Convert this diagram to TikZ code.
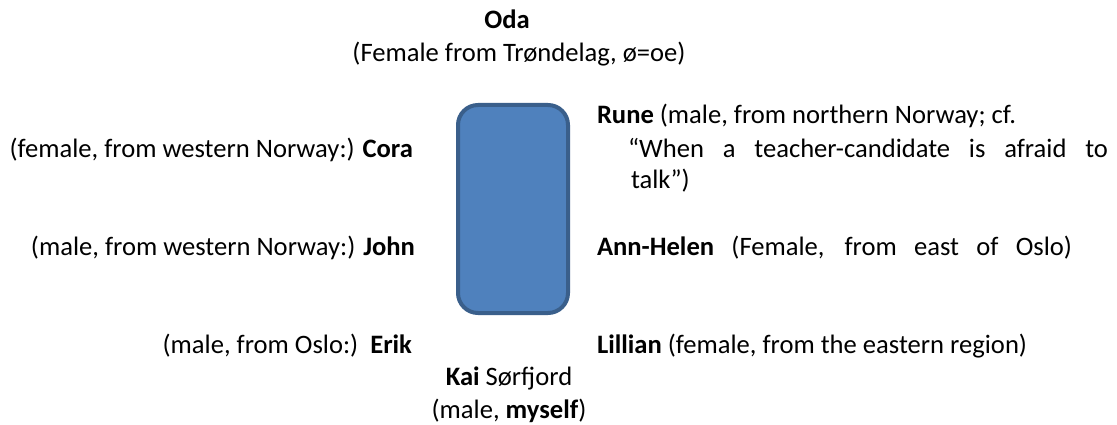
\documentclass[tikz,border=0pt]{standalone}
\usepackage{fontspec}
\setmainfont{Carlito}
\definecolor{boxfill}{HTML}{4F81BD}
\definecolor{boxline}{HTML}{3A5F8B}
\tikzset{
  txt/.style={inner sep=0pt, outer sep=0pt, font=\fontsize{26.6}{31}\selectfont},
  lefttxt/.style={txt, anchor=base east},
  righttxt/.style={txt, anchor=base west},
  midtxt/.style={txt, anchor=base},
  person/.style={draw=boxline, fill=boxfill, line width=4pt, rounded corners=20pt}
}
\begin{document}
\begin{tikzpicture}[x=1pt,y=-1pt]
\useasboundingbox (0,0) rectangle (1117,425);
\fill[white] (0,0) rectangle (1117,425);
\draw[person] (458,105) rectangle (568,313);
\node[midtxt] (oda) at (507,29) {\textbf{Oda}};
\node[midtxt] (odad) at (519,62) {(Female from Trøndelag, ø=oe)};
\node[lefttxt] (cora) at (413,158) {(female, from western Norway:) \textbf{Cora}};
\node[lefttxt] (john) at (415,255) {(male, from western Norway:) \textbf{John}};
\node[lefttxt] (erik) at (412,353) {(male, from Oslo:)\ \ \textbf{Erik}};
\node[righttxt] (rune) at (597,124) {\textbf{Rune} (male, from northern Norway; cf.};
\node[righttxt] (rune2) at (628,158) {\makebox[480pt][s]{“When a teacher-candidate is afraid to}};
\node[righttxt] (rune3) at (631,189) {talk”)};
\node[righttxt] (ann) at (597,255) {\makebox[475pt][s]{\textbf{Ann-Helen} (Female, from east of Oslo)}};
\node[righttxt] (lil) at (597,353) {\textbf{Lillian} (female, from the eastern region)};
\node[midtxt] (kai) at (509,385) {\textbf{Kai} Sørfjord};
\node[midtxt] (kai2) at (509,418) {(male, \textbf{myself})};
\end{tikzpicture}
\end{document}
